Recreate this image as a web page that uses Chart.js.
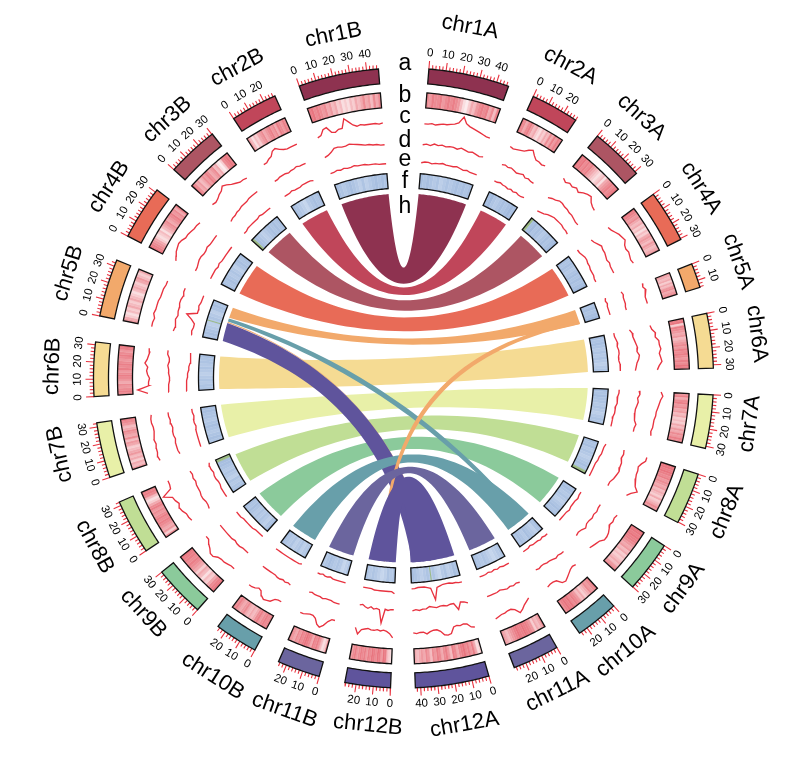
<!DOCTYPE html>
<html>
<head>
<meta charset="utf-8">
<script src="https://cdn.jsdelivr.net/npm/chart.js@4/dist/chart.umd.js"></script>
<style>
  html, body { margin: 0; background: #fff; }
  canvas { display: block; }
</style>
</head>
<body>
<canvas id="myChart" width="805" height="761"></canvas>
<script>
// sectors clockwise from the top, A side then B side
const namesA = ['chr1A','chr2A','chr3A','chr4A','chr5A','chr6A','chr7A','chr8A','chr9A','chr10A','chr11A','chr12A'];
const namesB = ['chr12B','chr11B','chr10B','chr9B','chr8B','chr7B','chr6B','chr5B','chr4B','chr3B','chr2B','chr1B'];
const lengthsA = [47.2,28.1,31.3,30.6,14.4,31.9,31.3,30.3,30.1,25.3,27.2,43.1];
const lengthsB = [26.6,25,25.3,30.1,32.2,32.5,31.6,33.8,31.6,30.3,27.2,46.9];
const chrColors = ['#8e3250','#c0465a','#ad5563','#e86b57','#f2a96b','#f5db93','#e8f0a8','#c0de95','#8bca9b','#689faa','#6b659e','#5f549c'];
const trackLetters = ['a','b','c','d','e','f','h'];

// track b, light level 0-9
const heatPink = [
  [3,4,2,3,3,2,4,3,2,3,2,3,4,6,8,9,7,5,6,4,3,2,3,2,5,3,6,2],
  [2,3,5,3,2,4,6,5,7,8,6,7,5,6,3,5,2,4,2,3],
  [1,2,1,3,2,3,2,4,5,6,7,8,7,6,8,5,4,3,2,3,2,1],
  [1,2,3,4,3,5,6,5,7,6,8,6,7,5,4,5,6,4,5,6,5,4],
  [4,5,6,5,7,5,6,4,3,5,4,3],
  [2,1,7,2,3,4,5,4,6,5,4,3,4,2,3,2,3,4,2,3,1,2],
  [4,2,5,3,2,4,3,5,4,6,5,7,6,7,5,6,4,5,3,4,2,3],
  [1,1,2,1,2,3,2,4,3,4,5,4,6,5,6,7,5,7,6,5,3,4],
  [1,1,2,1,2,2,3,4,5,4,6,5,7,6,7,6,5,6,4,3],
  [2,3,4,3,5,6,7,5,6,4,3,2,3,1,2,1,2,3],
  [3,5,6,5,7,4,3,2,2,1,2,2,1,2,3,4,5,6,5,4],
  [7,8,5,2,4,2,3,1,2,3,5,3,2,6,4,2,3,5,3,2,4,3,6,4,3,5,4,5,6,5],
  [8,7,6,2,1,4,2,1,3,2,1,3,2,4,2,3,2,3,4,2,3,4],
  [3,7,8,6,4,2,3,2,5,3,2,1,2,3,2,4,3,5,4,3],
  [2,3,2,3,4,2,3,5,6,5,6,5,3,4,5,4,2,3],
  [1,2,3,5,7,6,8,6,5,7,5,4,3,2,3,2,2,1],
  [3,7,4,5,4,3,2,3,2,3,4,3,4,2,3,5,7,8,6,3,2,2],
  [4,6,5,7,5,6,4,5,6,7,5,4,6,3,5,4,3,5,6,4,3,2],
  [3,2,3,4,3,5,4,3,2,3,4,2,3,2,3,4,3,2,3,4,2,1],
  [4,5,7,8,6,7,5,6,7,5,6,7,8,6,5,6,7,5,4,6,7,5],
  [1,2,3,4,5,7,8,7,6,8,6,5,4,3,5,4,3,2,4,3,5,2],
  [1,3,5,4,6,5,3,4,2,3,5,4,3,6,5,8,9,7,3,2,1,2],
  [4,6,8,6,7,5,4,3,5,4,3,2,4,3,5,2,3,4,2,3],
  [2,1,3,2,3,4,3,5,4,6,5,7,6,8,7,8,6,7,5,6,5,3,5,4,6,3,5,3]
];

// track f, light level 0-9, -1 is a green cell
const heatBlue = [
  [2,3,2,3,4,3,5,4,3,4,3,2,3,2,3,2],
  [2,1,3,4,3,2,3,2,1,2],
  [-1,2,1,3,2,3,4,3,2,3,2,1],
  [2,3,2,3,4,3,2,3,2,3,2,1],
  [3,2,3,2,1],
  [2,3,2,3,4,3,4,3,4,5,4,3],
  [2,3,2,3,3,4,3,4,5,4,3,3],
  [2,3,2,4,3,4,5,4,3,2,3,-1],
  [3,2,3,4,3,4,5,4,3,2,3,2],
  [2,3,5,4,3,2,4,3,2,3],
  [3,4,5,6,5,4,3,4,3,2],
  [3,2,4,5,3,4,6,5,3,4,3,4,5,4,3,2],
  [3,4,3,5,6,5,4,3,4,3],
  [3,5,6,4,3,4,3,2,3,4],
  [3,4,5,3,4,5,3,4,3,2],
  [2,3,5,4,3,4,3,4,3,2,3,2],
  [2,3,4,3,5,4,3,4,3,2,2,-1],
  [3,2,3,4,3,2,3,4,3,3,2,2],
  [3,3,4,3,4,5,4,3,4,3,3,2],
  [3,2,3,4,5,4,3,4,5,3,2,3],
  [2,3,2,3,4,3,4,5,3,2,3,2],
  [-1,2,3,4,5,4,3,2,3,2,3,2],
  [2,3,4,5,6,4,3,2,3,2],
  [2,3,4,3,2,3,4,5,3,5,4,3,2,3,2,3]
];

// thin green lines in track f: sector, position
const greenMarks = [['chr5B',15.5],['chr12A',25.5]];

// tracks c, d, e read as distance above the track base
const trackC = [
  [15,15,16,15,16,17,17,18,19,21,28,22,20,19,18,17,16,15,15],
  [15,14,15,16,17,20,22,18,15,15,14,15],
  [16,14,16,15,17,15,18,20,21,17,15,14],
  [14,15,17,19,20,21,18,17,18,17,16,17],
  [17,16,18,16,15,15,15],
  [12,13,16,15,18,18,19,17,18,19,16,14],
  [18,20,18,17,16,15,15,14,14,14,13,14],
  [16,16,13,11,12,12,13,14,16,20,15,12],
  [14,13,14,13,15,17,18,18,15,14,13,12],
  [14,13,14,16,18,20,19,14,13,13,14],
  [13,15,17,20,22,17,15,15,16,16,17,18],
  [19,18,14,13,14,13,14,20,21,20,16,14,14,15,17,15,15,16,15],
  [20,16,14,13,14,13,14,14,13,14,15,20,14],
  [12,12,15,20,23,21,16,14,14,15,16,16],
  [15,15,16,20,21,22,20,16,15,17,18,18],
  [15,15,16,17,17,18,21,21,18,16,13,13],
  [15,16,16,18,19,17,19,20,28,18,17,17],
  [17,18,17,17,16,17,16,15,15,16,16,15],
  [16,26,15,15,14,16,17,16,19,17,16,15,16],
  [17,17,16,18,17,17,17,16,16,16,15,15],
  [16,18,20,21,22,21,19,19,18,17,17,16],
  [18,17,18,20,21,24,22,19,17,15,15,14],
  [15,15,17,18,22,23,20,18,17,17,17,17],
  [15,16,21,22,16,15,17,17,26,22,18,16,17,16,16,16,16,15,16]
];
const trackD = [
  [12,13,12,14,13,14,13,14,14,13,15,14,13,14,13,12,13],
  [13,14,13,14,13,12,13,14,12,13,12,12],
  [9,11,12,14,14,13,13,12,12,11,10,10],
  [11,12,14,16,15,15,14,13,14,13,13,13],
  [12,13,12,12,12,11,11],
  [9,11,11,12,13,14,13,15,14,12,11,10],
  [14,15,13,14,13,12,12,12,13,15,14,14],
  [10,11,10,12,12,13,12,11,9,9],
  [12,12,13,12,13,12,12,14,12,11,12],
  [14,14,13,14,13,12,12,11,11,12,11],
  [13,12,13,12,13,12,11,12,12,12,12],
  [12,10,9,16,9,9,10,9,9,10,9,8,10,10,11,10,11],
  [10,10,11,10,24,11,10,11,9,11,10,8,9],
  [13,13,13,12,12,12,13,12,12,12,11,12],
  [14,13,14,13,14,14,13,13,13,13,13,13],
  [12,12,12,13,13,12,13,13,13,13,13,13],
  [12,11,11,12,12,11,11,11,10,11,10,11],
  [14,15,15,15,14,15,15,14,15,15,16,16],
  [13,13,13,12,12,13,13,14,13,13,15,15],
  [13,12,13,13,12,13,13,14,14,13,14,14],
  [12,12,13,14,14,13,13,14,13,13,13,13],
  [11,12,12,13,13,14,14,14,15,15,15,15],
  [13,13,14,14,14,13,14,14,15,14,14,14],
  [12,13,15,18,18,17,17,18,17,16,15,14,14,13,13,12,12]
];
const trackE = [
  [11,12,12,11,12,12,13,12,12,12,13,12,11,12,11,11,11],
  [12,12,13,12,12,11,12,11,12,11,11,12],
  [9,10,11,13,14,15,15,15,15,14,14,13],
  [11,11,12,13,13,12,12,11,11,11,10,10],
  [12,11,12,11,11,11,11],
  [10,10,11,12,11,12,12,11,11,12,12,12],
  [11,11,10,10,10,9,9,9,8,8,8,8],
  [8,7,7,7,6,6,5,5,5,5,5],
  [6,6,7,6,6,6,7,6,6,6,6],
  [7,7,6,7,6,6,6,5,6,6,6],
  [8,8,8,7,8,7,8,7,8,8,8],
  [7,7,6,6,5,5,5,6,7,19,7,6,5,5,5,6,6],
  [11,9,9,9,9,9,9,9,8,8,8,8],
  [8,8,8,8,8,8,7,8,8,7,8,8],
  [7,8,8,8,8,8,8,8,8,8,8,8],
  [7,7,7,7,8,8,8,8,8,9,9,9],
  [8,8,8,8,7,7,8,8,7,8,8,7],
  [9,9,9,9,9,9,8,9,9,8,9,9],
  [12,12,12,12,11,11,10,10,9,9,9,9],
  [11,12,11,11,15,21,11,11,12,11,11,11],
  [12,12,12,12,11,12,11,11,11,11,11,11],
  [10,10,11,11,11,11,11,12,11,11,11,11],
  [12,12,12,13,12,12,12,13,13,13,13,12],
  [12,12,13,12,13,12,12,13,12,12,12,11,11,11,10,10,10]
];

// ribbons in drawing order: sector, from, to, sector, from, to, colour index
const links = [
  ['chr1A',0,47.2,'chr1B',0,46.9,0],
  ['chr2A',0,28.1,'chr2B',0,27.2,1],
  ['chr3A',2.5,31.3,'chr3B',2.5,30.3,2],
  ['chr4A',0,30.6,'chr4B',0,31.6,3],
  ['chr5A',0,14.4,'chr5B',23.4,33.8,4],
  ['chr6A',0,31.9,'chr6B',0,31.6,5],
  ['chr7A',0,31.3,'chr7B',0,32.5,6],
  ['chr8A',0,27.8,'chr8B',0,29.7,7],
  ['chr9A',0,30.1,'chr9B',0,30.1,8],
  ['chr12A',23,23.6,'chr5B',18.4,19.4,4],
  ['chr12A',23,41.7,'chr5B',0,18.1,11,25,null],
  ['chr10A',6.5,9.5,'chr5B',19.7,22.8,9,4,-3],
  ['chr10A',0,25.3,'chr10B',0,25.3,9],
  ['chr5A',11.5,14.4,'chr12B',10.5,11.5,4,-25,-32],
  ['chr11A',0,27.2,'chr11B',0,25,10],
  ['chr12A',0,43.1,'chr12B',0,26.6,11]
];

const pinkLevels = ['#e66d78','#e8757f','#ea7f88','#ec8b93','#ee99a0','#f1a9af','#f4bbc0','#f7cdd0','#f9dee0','#fcecee'];
const blueLevels = ['#9db6db','#a2badd','#a8bfe0','#aec4e3','#b5c9e6','#bdcfe9','#c6d6ed','#d0def1','#dae5f4','#e4ecf7'];
const greenCell = '#9cbb84';
const redLine = '#e8323f';

const degPerMb = 0.32;
const gapA = 4.95, gapB = 4.87;
const ringA = [295, 310], ringB = [271, 286], ringF = [190, 205], ribbonR = 184.5;
const trackBase = { c: 240, d: 222, e: 205 };

// name placement, same order as the sectors
const nameShift = [-1.5,-1.1,-1.3,-1.1,0.1,-0.2,-0.6,-0.5,-0.6,-0.5,-0.9,-0.9,-0.8,-0.1,-0.1,1.4,0.1,1,0.3,0.4,0.7,0.5,0.7,0.6];
const nameRadius = [357,354,353,353,354.5,356,349.5,350,350,352,349,352,349,353,354,351,352,352,351,351,351,350,352,350];

// sector layout
const sectors = [];
let at = 4.7;
namesA.forEach((n, i) => {
  sectors.push({ name: n, len: lengthsA[i], start: at, color: chrColors[i] });
  at += lengthsA[i] * degPerMb + gapA;
});
at = 182.4;
namesB.forEach((n, i) => {
  sectors.push({ name: n, len: lengthsB[i], start: at, color: chrColors[11 - i] });
  at += lengthsB[i] * degPerMb + gapB;
});
const sectorByName = {};
sectors.forEach(s => { s.end = s.start + s.len * degPerMb; sectorByName[s.name] = s; });

const toXY = (deg, r) => ({ x: r * Math.sin(deg * Math.PI / 180), y: r * Math.cos(deg * Math.PI / 180) });

function band(d1, d2, r0, r1) {
  const pts = [];
  const n = Math.max(2, Math.ceil((d2 - d1) / 0.5));
  for (let i = 0; i <= n; i++) pts.push(toXY(d1 + (d2 - d1) * i / n, r1));
  for (let i = n; i >= 0; i--) pts.push(toXY(d1 + (d2 - d1) * i / n, r0));
  return pts;
}

const datasets = [];
function addShape(points, fill, stroke, width) {
  datasets.push({ data: points, showLine: false, pointRadius: 0, shapeFill: fill, shapeStroke: stroke, shapeWidth: width });
}
function addLine(points, color, width) {
  datasets.push({ data: points, showLine: true, pointRadius: 0, borderColor: color, borderWidth: width, tension: 0, spanGaps: false });
}

// quadratic edge between two ring points, control point on the bisector
function edge(d1, d2, h) {
  let span = Math.abs(d1 - d2);
  let mid = (d1 + d2) / 2;
  if (span > 180) { span = 360 - span; mid += 180; }
  const p0 = toXY(d1, ribbonR), p2 = toXY(d2, ribbonR);
  const c = toXY(mid, h === null || h === undefined ? 8 + 270 / span : h);
  const pts = [];
  for (let i = 1; i < 40; i++) {
    const t = i / 40, u = 1 - t;
    pts.push({ x: u * u * p0.x + 2 * u * t * c.x + t * t * p2.x, y: u * u * p0.y + 2 * u * t * c.y + t * t * p2.y });
  }
  return pts;
}
function ribbon(l) {
  const sa = sectorByName[l[0]], sb = sectorByName[l[3]];
  const a1 = sa.start + l[1] * degPerMb, a2 = sa.start + l[2] * degPerMb;
  const b1 = sb.start + l[4] * degPerMb, b2 = sb.start + l[5] * degPerMb;
  const arc = (d1, d2) => {
    const out = [];
    const n = Math.max(1, Math.ceil((d2 - d1) / 0.5));
    for (let i = 0; i <= n; i++) out.push(toXY(d1 + (d2 - d1) * i / n, ribbonR));
    return out;
  };
  return [...arc(a1, a2), ...edge(a2, b1, l[7]), ...arc(b1, b2), ...edge(b2, a1, l[8])];
}

// axis ticks
sectors.forEach(s => {
  const major = [], minor = [];
  for (let mb = 0; mb <= s.len; mb += 2) {
    const d = s.start + mb * degPerMb;
    const target = mb % 10 === 0 ? major : minor;
    target.push(toXY(d, ringA[1]), toXY(d, ringA[1] + (mb % 10 === 0 ? 8 : 4)), { x: NaN, y: NaN });
  }
  addLine(major, redLine, 1.1);
  addLine(minor, redLine, 1.1);
});

// ribbons under the tracks
links.forEach(l => addShape(ribbon(l), chrColors[l[6]], null, 0));

sectors.forEach((s, i) => {
  // track a
  addShape(band(s.start, s.end, ringA[0], ringA[1]), s.color, '#111', 1.3);

  // track b
  const pink = heatPink[i];
  pink.forEach((v, k) => {
    const step = (s.end - s.start) / pink.length;
    const d = s.start + k * step;
    addShape(band(d, d + step, ringB[0], ringB[1]), pinkLevels[v], pinkLevels[v], 0.4);
  });
  addShape(band(s.start, s.end, ringB[0], ringB[1]), null, '#111', 1.3);

  // track f
  const blue = heatBlue[i];
  blue.forEach((v, k) => {
    const step = (s.end - s.start) / blue.length;
    const d = s.start + k * step;
    const col = v < 0 ? greenCell : blueLevels[v];
    addShape(band(d, d + step, ringF[0], ringF[1]), col, col, 0.4);
  });
  greenMarks.filter(m => m[0] === s.name).forEach(m => {
    const d = s.start + m[1] * degPerMb;
    addLine([toXY(d, ringF[0]), toXY(d, ringF[1])], greenCell, 1);
  });
  addShape(band(s.start, s.end, ringF[0], ringF[1]), null, '#111', 1.3);

  // tracks c, d, e
  [[trackC, trackBase.c], [trackD, trackBase.d], [trackE, trackBase.e]].forEach(([track, base]) => {
    const vals = track[i];
    const pts = vals.map((v, k) => toXY(s.start + (s.end - s.start) * k / (vals.length - 1), base + v));
    addLine(pts, redLine, 1.35);
  });
});

// first dataset is painted last, so flip to keep the order above
datasets.reverse();

const shapePlugin = {
  id: 'shapes',
  afterDatasetDraw(chart, args) {
    const ds = chart.data.datasets[args.index];
    if (!ds.shapeFill && !ds.shapeStroke) return;
    const ctx = chart.ctx;
    ctx.save();
    ctx.beginPath();
    args.meta.data.forEach((p, i) => { if (i) ctx.lineTo(p.x, p.y); else ctx.moveTo(p.x, p.y); });
    ctx.closePath();
    if (ds.shapeFill) { ctx.fillStyle = ds.shapeFill; ctx.fill(); }
    if (ds.shapeStroke) { ctx.strokeStyle = ds.shapeStroke; ctx.lineWidth = ds.shapeWidth; ctx.lineJoin = 'miter'; ctx.stroke(); }
    ctx.restore();
  }
};

const labelPlugin = {
  id: 'labels',
  afterDatasetsDraw(chart) {
    const ctx = chart.ctx, sx = chart.scales.x, sy = chart.scales.y;
    const put = (text, deg, r, rot) => {
      const p = toXY(deg, r);
      ctx.save();
      ctx.translate(sx.getPixelForValue(p.x), sy.getPixelForValue(p.y));
      ctx.rotate(rot * Math.PI / 180);
      ctx.fillText(text, 0, 0);
      ctx.restore();
    };
    ctx.save();
    ctx.fillStyle = '#000';
    ctx.textAlign = 'center';
    ctx.textBaseline = 'middle';
    sectors.forEach((s, i) => {
      const mid = (s.start + s.end) / 2;
      ctx.font = '11.5px "Liberation Sans"';
      const tickFlip = mid > 90 && mid < 270;
      for (let mb = 0; mb <= s.len; mb += 10) {
        const d = s.start + mb * degPerMb;
        put(String(mb), d, 326, tickFlip ? d - 180 : d);
      }
      ctx.font = '22px "Liberation Sans"';
      const nameAt = mid + nameShift[i];
      put(s.name, nameAt, nameRadius[i], nameAt > 90 && nameAt < 250 ? nameAt - 180 : nameAt);
    });
    ctx.font = '23px "Liberation Sans"';
    ctx.textBaseline = 'alphabetic';
    const letterY = [308, 276.3, 255, 231, 212.3, 190, 165.3];
    trackLetters.forEach((t, i) => {
      ctx.fillText(t, sx.getPixelForValue(1.5), sy.getPixelForValue(letterY[i]));
    });
    ctx.restore();
  }
};

new Chart(document.getElementById('myChart'), {
  type: 'scatter',
  data: { datasets },
  plugins: [shapePlugin, labelPlugin],
  options: {
    responsive: false,
    animation: false,
    events: [],
    layout: { padding: 0 },
    scales: {
      x: { type: 'linear', min: -403.5, max: 401.5, display: false },
      y: { type: 'linear', min: -383, max: 378, display: false }
    },
    plugins: { legend: { display: false }, tooltip: { enabled: false } }
  }
});
</script>
</body>
</html>
